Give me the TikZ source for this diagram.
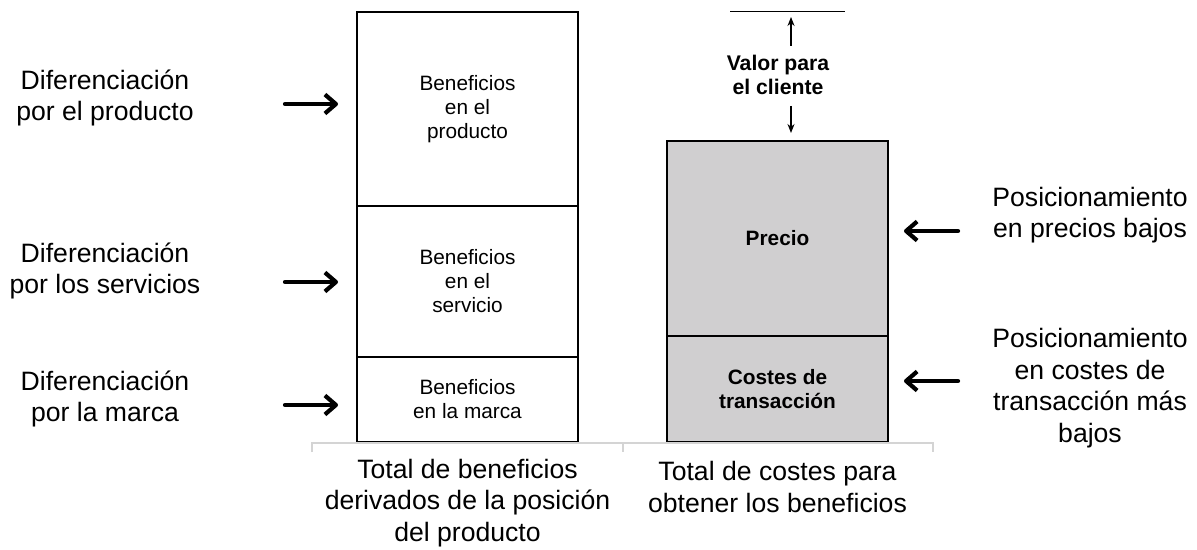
\documentclass[tikz,border=0pt]{standalone}
\usepackage{fontspec}
\setmainfont{Liberation Sans}
\usetikzlibrary{positioning,arrows.meta}
\definecolor{costgray}{RGB}{208,207,208}
\definecolor{axisgray}{RGB}{212,212,212}
\tikzset{%
  every bar/.style={
    draw,
    line width=0.75pt,
    outer sep=0pt,
    inner sep=0pt,
    align=center,
    minimum width=110.5pt,
    font=\fontsize{10.4}{12}\selectfont
  },
  bar cost/.style={
    fill=costgray,
    font=\fontsize{10.4}{11.6}\selectfont\bfseries
  },
  side label/.style={
    align=center,
    font=\fontsize{13.3}{15.8}\selectfont
  },
  push arrow/.style={
    line width=2.1pt, line cap=round,
    -{Straight Barb[length=5.5pt,width=9.5pt,line join=round]}
  },
  value arrow/.style={
    line width=0.6pt,
    -{Stealth[length=4.5pt,width=3.5pt]}
  },
}

\begin{document}
\begin{tikzpicture}[x=0.5pt, y=-0.5pt]
        \useasboundingbox (0,0) rectangle (1197,550);
        
        % bars
        \node [every bar, minimum height=42.5pt, anchor=south] (marca) at (467.5,442) {Beneficios\\en la marca};
        \node [every bar, minimum height=75.5pt, above=0pt of marca] (servicio) {Beneficios\\en el\\servicio};
        \node [every bar, minimum height=97pt, above=0pt of servicio] (producto) {Beneficios\\en el\\producto};
        
        \node [every bar, bar cost, minimum height=53pt, anchor=south] (costes) at (777.5,442) {Costes de\\transacción};
        \node [every bar, bar cost, minimum height=97.5pt, above=0pt of costes] (precio) {Precio};
        
        % axis
        \draw [axisgray, line width=1pt] (312,452) -- (312,443) -- (933,443) -- (933,452);
        \draw [axisgray, line width=1pt] (623,443) -- (623,452);
        
        % labels
        \node [side label] (dif-producto) at (105,98) {Diferenciación\\por el producto};
        \node [side label] (dif-servicio) at (105,271) {Diferenciación\\por los servicios};
        \node [side label] (dif-marca) at (105,399) {Diferenciación\\por la marca};
        
        \node [side label] (pos-precio) at (1090,215) {Posicionamiento\\en precios bajos};
        \node [side label] (pos-costes) at (1090,388) {Posicionamiento\\en costes de\\transacción más\\bajos};
        
        \node [side label] (total-ben) at (467.5,503) {Total de beneficios\\derivados de la posición\\del producto};
        \node [side label] (total-cost) at (777.5,487) {Total de costes para\\obtener los beneficios};
        
        % arrows
        \foreach \n/\y in {producto/104, servicio/282, marca/405}{
        \coordinate (in-\n) at (285,\y);
        \draw [push arrow, shorten >=9.5pt] (in-\n) -- (in-\n -| \n.west);
        }
        
        \foreach \n/\y in {precio/231, costes/381}{
        \coordinate (in-\n) at (958,\y);
        \draw [push arrow, shorten >=8pt] (in-\n) -- (in-\n -| \n.east);
        }
        
        % customer value
        \coordinate (top-l) at (730,12);
        \coordinate (top-r) at (845,12);
        \draw [line width=0.5pt] (top-l) -- (top-r);
        
        \node [align=center, font=\fontsize{10.6}{12}\selectfont\bfseries] (valor) at (778,75) {Valor para\\el cliente};
        
        \coordinate (v-up) at (791,46);
        \coordinate (v-down) at (791,106);
        \draw [value arrow, shorten >=2.5pt] (v-up) -- (v-up |- top-l);
        \draw [value arrow, shorten >=4pt] (v-down) -- (v-down |- precio.north);
        
    \end{tikzpicture}
\end{document}
